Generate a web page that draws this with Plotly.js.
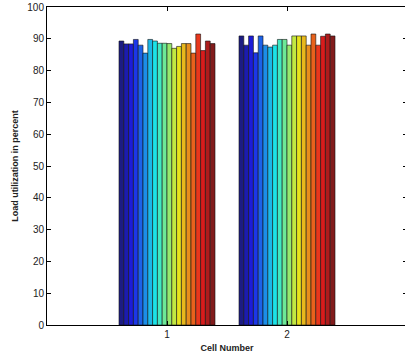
<!DOCTYPE html>
<html>
<head>
<meta charset="utf-8">
<script src="https://cdn.plot.ly/plotly-3.0.1.min.js"></script>
<style>
html,body{margin:0;padding:0;background:#fff;overflow:hidden;}
#chart{width:405px;height:360px;}
</style>
</head>
<body>
<div id="chart"></div>
<script>
const cells = [1, 2];
const cellTickLabels = ['1', '2'];
const cell1Load = [89.3, 88.4, 88.4, 89.8, 88.0, 85.5, 89.8, 89.3, 88.6, 88.6,
                   88.5, 87.0, 87.6, 88.5, 88.5, 85.5, 91.5, 86.3, 89.3, 88.5];
const cell2Load = [90.9, 88.0, 90.9, 85.6, 90.9, 88.0, 87.4, 88.0, 89.8, 89.8,
                   88.0, 90.9, 90.9, 90.9, 88.0, 91.5, 88.0, 90.8, 91.5, 90.9];

// jet colormap, slightly muted to match the reference rendering
function jet(t) {
  const c = v => Math.max(0, Math.min(1, v));
  const r = c(1.5 - Math.abs(4 * t - 3));
  const g = c(1.5 - Math.abs(4 * t - 2));
  const b = c(1.5 - Math.abs(4 * t - 1));
  const mix = v => Math.round(0.8 * v * 255 + 0.2 * 140);
  return 'rgb(' + mix(r) + ',' + mix(g) + ',' + mix(b) + ')';
}

const n = cell1Load.length;
const traces = [];
for (let i = 0; i < n; i++) {
  traces.push({
    type: 'bar',
    x: cells,
    y: [cell1Load[i], cell2Load[i]],
    name: 'Series ' + (i + 1),
    marker: { color: jet(i / (n - 1)), line: { color: '#111', width: 0.6 } },
    hoverinfo: 'y'
  });
}

const layout = {
  width: 407,
  height: 360,
  margin: { l: 47, r: 0, t: 7, b: 35 },
  paper_bgcolor: '#fff',
  plot_bgcolor: '#fff',
  showlegend: false,
  barmode: 'group',
  bargap: 0.2,
  bargroupgap: 0,
  font: { family: 'Liberation Sans, Arial, sans-serif', color: '#222', size: 10 },
  xaxis: {
    range: [0, 3],
    tickvals: cells,
    ticktext: cellTickLabels,
    ticks: 'inside',
    ticklen: 4,
    tickcolor: '#000',
    showline: true,
    linecolor: '#000',
    linewidth: 1,
    mirror: 'ticks',
    showgrid: false,
    zeroline: false,
    tickfont: { size: 10 },
    title: { text: 'Cell Number', font: { size: 9, family: 'Liberation Sans, Arial, sans-serif', weight: 'bold', color: '#222' }, standoff: 5 }
  },
  yaxis: {
    range: [0, 100],
    dtick: 10,
    ticks: 'inside',
    ticklen: 4,
    tickcolor: '#000',
    showline: true,
    linecolor: '#000',
    linewidth: 1,
    mirror: 'ticks',
    showgrid: false,
    zeroline: false,
    tickfont: { size: 10 },
    title: { text: 'Load utilization in percent', font: { size: 9, family: 'Liberation Sans, Arial, sans-serif', weight: 'bold', color: '#222' }, standoff: 7 }
  }
};

Plotly.newPlot('chart', traces, layout, { displayModeBar: false, staticPlot: true });
</script>
</body>
</html>
